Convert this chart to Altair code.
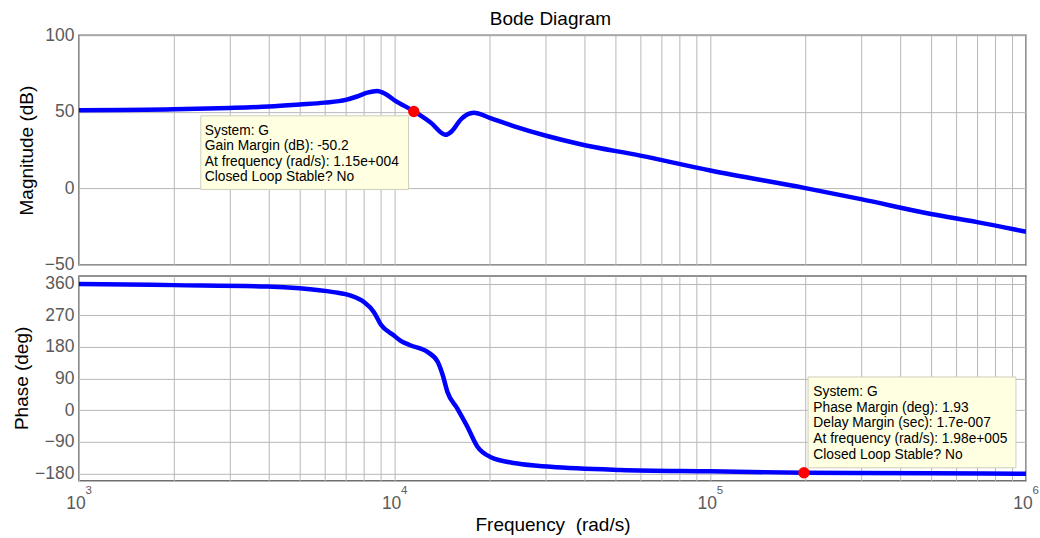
import altair as alt
import pandas as pd

FONT = "Liberation Sans"

# ---- magnitude curve (rad/s, dB) ----
mag_freq = [1000, 2000, 3000, 4000, 5000, 6000, 7000, 7600, 8200, 8800, 9300, 10000,
            11500, 13000, 14500, 15200, 16200, 17800, 20000, 23800, 30400, 38800,
            60000, 100000, 200000, 300000, 500000, 700000, 1000000]
mag_db = [51.0, 51.6, 52.5, 53.5, 54.8, 56.0, 57.8, 60.0, 62.5, 63.6, 62.0, 57.5,
          50.4, 43.0, 35.0, 37.5, 45.0, 49.4, 46.1, 40.7, 34.2, 28.8,
          21.4, 11.7, 0.2, -7.0, -16.7, -22.0, -28.3]

# ---- phase curve (rad/s, deg) ----
ph_freq = [1000, 2000, 3950, 5000, 6400, 7260, 7990, 8600, 9040, 9930, 10400, 11200,
           12700, 13700, 14200, 14700, 15800, 17000, 18300, 20100, 24500, 31200,
           52000, 100000, 198000, 500000, 1000000]
ph_deg = [359.5, 356, 352, 347, 336, 326, 308, 279, 244, 213, 199, 185,
          166, 137, 100, 52, 4.5, -47, -104, -133, -152, -161,
          -170, -174, -178.07, -179.5, -181]

# ---- axes ----
grid_freqs = [k * 10 ** e for e in (3, 4, 5) for k in range(1, 10)] + [1000000]
decades = [1000, 10000, 100000, 1000000]
decade_exp = ["3", "4", "5", "6"]
mag_ticks = [-50, 0, 50, 100]
phase_ticks = [-180, -90, 0, 90, 180, 270, 360]

# ---- margin markers and datatips ----
gm_freq, gm_db = [11500], [50.2]
pm_freq, pm_deg = [198000], [-178.07]
tip1_lines = ["System: G", "Gain Margin (dB): -50.2", "At frequency (rad/s): 1.15e+004",
              "Closed Loop Stable? No"]
tip2_lines = ["System: G", "Phase Margin (deg): 1.93", "Delay Margin (sec): 1.7e-007",
              "At frequency (rad/s): 1.98e+005", "Closed Loop Stable? No"]
tip1_box = dict(x=2433, x2=11070, y=47.4, y2=-0.7)
tip1_text = dict(x=2505, y=35.0)
tip2_box = dict(x=204000, x2=929000, y=94.6, y2=-164.0)
tip2_text = dict(x=212000, y=40.6)
chart_title = "Bode Diagram"

W = 948
H1, H2 = 230, 205
BLUE = "#0000ff"
RED = "#ff0000"

xscale = alt.Scale(type="log", domain=[1000, 1000000], nice=False)
ymag = alt.Scale(domain=[-50, 100], nice=False, zero=False)
yph = alt.Scale(domain=[-201, 382], nice=False, zero=False)

X_TOP_AXIS = alt.Axis(values=grid_freqs, labels=False, ticks=False, domain=False,
                      grid=True, title=None)
X_BOT_AXIS = alt.Axis(values=grid_freqs, labels=False, ticks=False, domain=False,
                      grid=True, title="Frequency\u00a0 (rad/s)", titleY=50,
                      titleBaseline="alphabetic", titleFontSize=19)
Y_MAG_AXIS = alt.Axis(values=mag_ticks, title="Magnitude (dB)", titleX=-52, titleY=115,
                      titleAngle=270, titleAlign="center", titleBaseline="middle",
                      ticks=False, tickSize=0, domain=False, labelPadding=5,
                      labelOverlap=False)
Y_PH_AXIS = alt.Axis(values=phase_ticks, title="Phase (deg)", titleX=-57, titleY=102,
                     titleAngle=270, titleAlign="center", titleBaseline="middle",
                     ticks=False, tickSize=0, domain=False, labelPadding=5,
                     labelOverlap=False)


def xt(field):
    return alt.X(field, scale=xscale, axis=X_TOP_AXIS)


def xb(field):
    return alt.X(field, scale=xscale, axis=X_BOT_AXIS)


def ym(field):
    return alt.Y(field, scale=ymag, axis=Y_MAG_AXIS)


def yp(field):
    return alt.Y(field, scale=yph, axis=Y_PH_AXIS)


mag_df = pd.DataFrame({"freq": mag_freq, "val": mag_db})
ph_df = pd.DataFrame({"freq": ph_freq, "val": ph_deg})

# ---------------- top panel ----------------
mag_line = alt.Chart(mag_df).mark_line(color=BLUE, strokeWidth=4.5, clip=True,
                                       interpolate="monotone").encode(
    x=xt("freq:Q"), y=ym("val:Q"))
box1 = alt.Chart(pd.DataFrame([tip1_box])).mark_rect(
    fill="#ffffe1", stroke="#cfcfbc", strokeWidth=1).encode(
    x=xt("x:Q"), x2="x2:Q", y=ym("y:Q"), y2="y2:Q")
text1 = alt.Chart(pd.DataFrame([{**tip1_text, "t": "\n".join(tip1_lines)}])).mark_text(
    align="left", baseline="alphabetic", font=FONT, fontSize=13.8, lineBreak="\n",
    lineHeight=15.4, color="#000000").encode(
    x=xt("x:Q"), y=ym("y:Q"), text="t:N")
gm_pt = alt.Chart(pd.DataFrame({"freq": gm_freq, "val": gm_db})).mark_circle(
    color=RED, size=130, opacity=1).encode(
    x=xt("freq:Q"), y=ym("val:Q"))
title_mark = alt.Chart(pd.DataFrame({"t": [chart_title]})).mark_text(
    align="center", baseline="alphabetic", font=FONT, fontSize=19, color="#000000").encode(
    x=alt.value(W / 2 - 2), y=alt.value(-10.5), text="t:N")

top = alt.layer(mag_line, box1, text1, gm_pt, title_mark).properties(width=W, height=H1)

# ---------------- bottom panel ----------------
ph_line = alt.Chart(ph_df).mark_line(color=BLUE, strokeWidth=4.5, clip=True,
                                     interpolate="monotone").encode(
    x=xb("freq:Q"), y=yp("val:Q"))
box2 = alt.Chart(pd.DataFrame([tip2_box])).mark_rect(
    fill="#ffffe1", stroke="#cfcfbc", strokeWidth=1).encode(
    x=xb("x:Q"), x2="x2:Q", y=yp("y:Q"), y2="y2:Q")
text2 = alt.Chart(pd.DataFrame([{**tip2_text, "t": "\n".join(tip2_lines)}])).mark_text(
    align="left", baseline="alphabetic", font=FONT, fontSize=13.8, lineBreak="\n",
    lineHeight=15.8, color="#000000").encode(
    x=xb("x:Q"), y=yp("y:Q"), text="t:N")
pm_pt = alt.Chart(pd.DataFrame({"freq": pm_freq, "val": pm_deg})).mark_circle(
    color=RED, size=130, opacity=1).encode(
    x=xb("freq:Q"), y=yp("val:Q"))

dec_df = pd.DataFrame({"freq": decades, "exp": decade_exp, "base": ["10"] * 4})
dec_base = alt.Chart(dec_df).mark_text(
    align="center", baseline="alphabetic", font=FONT, fontSize=17.5, color="#5a5a5a",
    dx=-3).encode(x=xb("freq:Q"), y=alt.value(H2 + 28), text="base:N")
dec_exp = alt.Chart(dec_df).mark_text(
    align="left", baseline="alphabetic", font=FONT, fontSize=11.5, color="#5a5a5a",
    dx=6.5).encode(x=xb("freq:Q"), y=alt.value(H2 + 13), text="exp:N")

bottom = alt.layer(ph_line, box2, text2, pm_pt, dec_base, dec_exp).properties(
    width=W, height=H2)

chart = alt.vconcat(top, bottom, spacing=11, bounds="flush").properties(
    padding={"left": 12, "top": 8, "right": 0, "bottom": 0}
).configure_view(
    stroke="#6e6e6e", strokeWidth=1.5
).configure_axis(
    labelFont=FONT, titleFont=FONT, labelFontSize=17.5, titleFontSize=19,
    labelColor="#5a5a5a", titleColor="#000000", titleFontWeight="normal",
    gridColor="#b8b8b8", gridWidth=1, gridOpacity=1
)

chart.save("out.html", embed_options={"renderer": "svg", "actions": False})
